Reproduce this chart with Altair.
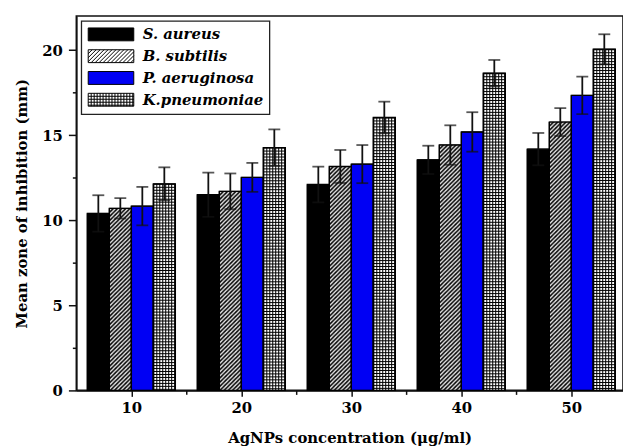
import urllib.parse
import altair as alt
import pandas as pd

# ---------------- data ----------------
concentrations = [10, 20, 30, 40, 50]
series = ["S. aureus", "B. subtilis", "P. aeruginosa", "K.pneumoniae"]
means = {
    "S. aureus":     [10.40, 11.50, 12.10, 13.55, 14.18],
    "B. subtilis":   [10.70, 11.70, 13.16, 14.42, 15.77],
    "P. aeruginosa": [10.83, 12.52, 13.30, 15.19, 17.34],
    "K.pneumoniae":  [12.14, 14.27, 16.04, 18.64, 20.05],
}
errors = {
    "S. aureus":     [1.07, 1.30, 1.05, 0.83, 0.95],
    "B. subtilis":   [0.60, 1.05, 0.97, 1.16, 0.82],
    "P. aeruginosa": [1.13, 0.85, 1.12, 1.16, 1.10],
    "K.pneumoniae":  [0.97, 1.07, 0.93, 0.78, 0.88],
}
fill_colors = ["#000000", "#ffffff", "#0000f4", "#ffffff"]

rows = []
for i, s in enumerate(series):
    for j, c in enumerate(concentrations):
        rows.append({"conc": c, "series": s, "idx": i,
                     "value": means[s][j], "err": errors[s][j]})
df = pd.DataFrame(rows)

# ---------------- patterns ----------------
hatch_svg = (
    "<svg xmlns='http://www.w3.org/2000/svg' width='100%' height='100%'>"
    "<defs><pattern id='h' width='4.2' height='4.2' patternUnits='userSpaceOnUse'>"
    "<rect width='4.2' height='4.2' fill='#e6e6e6'/>"
    "<path d='M-1,1 L1,-1 M0,4.2 L4.2,0 M3.2,5.2 L5.2,3.2' stroke='#000' stroke-width='1.5'/>"
    "</pattern></defs><rect width='100%' height='100%' fill='url(#h)'/></svg>"
)
grid_svg = (
    "<svg xmlns='http://www.w3.org/2000/svg' width='100%' height='100%'>"
    "<defs><pattern id='g' width='3' height='3' patternUnits='userSpaceOnUse'>"
    "<rect width='3' height='3' fill='white'/>"
    "<path d='M0,0.5 H3 M0.5,0 V3' stroke='#000' stroke-width='1.05'/>"
    "</pattern></defs><rect width='100%' height='100%' fill='url(#g)'/></svg>"
)
hatch_url = "data:image/svg+xml," + urllib.parse.quote(hatch_svg)
grid_url = "data:image/svg+xml," + urllib.parse.quote(grid_svg)

# legend symbol paths (unit = sqrt(size)/2 px)
K = 6.5
X0, X1 = -1.0, -1.0 + 46 / K


def rect_path():
    return f"M{X0:.3f},-1H{X1:.3f}V1H{X0:.3f}Z"


def hatch_path():
    p = rect_path()
    step = 4.0 / K
    a = X0 - 2
    while a < X1:
        xs, ys = a, 1.0
        xe, ye = a + 2, -1.0
        if xs < X0:
            ys = 1.0 - (X0 - xs)
            xs = X0
        if xe > X1:
            ye = -1.0 + (xe - X1)
            xe = X1
        if xe > xs:
            p += f"M{xs:.3f},{ys:.3f}L{xe:.3f},{ye:.3f}"
        a += step
    return p


def grid_path():
    p = rect_path()
    g = 3.0 / K
    x = X0 + g
    while x < X1 - 0.05:
        p += f"M{x:.3f},-1V1"
        x += g
    y = -1 + g
    while y < 1 - 0.05:
        p += f"M{X0:.3f},{y:.3f}H{X1:.3f}"
        y += g
    return p


shape_range = [rect_path(), hatch_path(), rect_path(), grid_path()]

FONT = "DejaVu Serif"

fill_scale = alt.Scale(domain=series, range=fill_colors)
shape_scale = alt.Scale(domain=series, range=shape_range)
xscale = alt.Scale(domain=[5, 54.7], nice=False, zero=False)
yscale = alt.Scale(domain=[0, 22], nice=False)


def legend_def():
    return alt.Legend(
        title=None, orient="top-left", offset=5, padding=6,
        symbolSize=169, symbolStrokeWidth=1.0,
        symbolOpacity=1, labelOffset=41, labelFont=FONT, labelFontSize=15,
        labelFontStyle="italic", labelFontWeight="bold", labelColor="black",
        rowPadding=5, strokeColor="#222", fillColor="white", labelLimit=400,
    )


base = alt.Chart(df).transform_calculate(
    xc="datum.conc + (2 * datum.idx - 3)",
    x1="datum.conc + (2 * datum.idx - 3) - 1",
    x2="datum.conc + (2 * datum.idx - 3) + 1",
    lo="datum.value - datum.err",
    hi="datum.value + datum.err",
    zero="0",
)

xaxis = alt.Axis(
    title="AgNPs concentration (\u03bcg/ml)",
    values=[10, 15, 20, 25, 30, 35, 40, 45, 50],
    labelExpr="datum.value % 10 === 0 ? datum.label : ''",
    tickSize={"condition": {"test": "datum.value % 10 !== 0", "value": 4}, "value": 6},
    labelPadding=4, titlePadding=16,
)
yaxis = alt.Axis(
    title="Mean zone of inhibition (mm)",
    values=[0, 2.5, 5, 7.5, 10, 12.5, 15, 17.5, 20],
    labelExpr="datum.value % 5 === 0 ? datum.label : ''",
    tickSize={"condition": {"test": "datum.value % 5 !== 0", "value": 4}, "value": 8},
    labelPadding=6, titlePadding=12,
)

bars = base.mark_bar(stroke="black", strokeWidth=1.0).encode(
    x=alt.X("x1:Q", scale=xscale, axis=xaxis),
    x2="x2:Q",
    y=alt.Y("value:Q", scale=yscale, axis=yaxis, stack=None),
    y2="zero:Q",
    fill=alt.Fill("series:N", scale=fill_scale, legend=legend_def()),
)

hatch_img = base.transform_filter(alt.datum.series == series[1]).mark_image(
    aspect=False
).encode(
    x="x1:Q", x2="x2:Q", y="value:Q", y2="zero:Q", url=alt.value(hatch_url)
)
grid_img = base.transform_filter(alt.datum.series == series[3]).mark_image(
    aspect=False
).encode(
    x="x1:Q", x2="x2:Q", y="value:Q", y2="zero:Q", url=alt.value(grid_url)
)

outline = base.mark_bar(fillOpacity=0, stroke="black", strokeWidth=1.4).encode(
    x="x1:Q", x2="x2:Q", y=alt.Y("value:Q", stack=None), y2="zero:Q"
)

whisk = base.mark_rule(color="#111", strokeWidth=1.8).encode(
    x="xc:Q", y="lo:Q", y2="hi:Q"
)
cap_hi = base.mark_tick(orient="horizontal", size=12, thickness=1.8, color="#111").encode(
    x="xc:Q", y="hi:Q"
)
cap_lo = base.mark_tick(orient="horizontal", size=12, thickness=1.8, color="#111").encode(
    x="xc:Q", y="lo:Q"
)

legend_pts = base.mark_point(
    filled=True, size=1, opacity=0, stroke="black", strokeWidth=1.0
).encode(
    x="xc:Q",
    y="value:Q",
    fill=alt.Fill("series:N", scale=fill_scale, legend=legend_def()),
    shape=alt.Shape("series:N", scale=shape_scale, legend=legend_def()),
)

chart = alt.layer(
    bars, hatch_img, grid_img, outline, whisk, cap_hi, cap_lo, legend_pts
).properties(
    width=552, height=378,
    autosize=alt.AutoSizeParams(type="none"),
    padding={"left": 69, "top": 6, "right": 0, "bottom": 56},
    background="white",
).configure_view(
    stroke="#111", strokeWidth=1.6
).configure_axis(
    grid=False,
    labelFont=FONT, labelFontWeight="bold", labelFontSize=15, labelColor="black",
    titleFont=FONT, titleFontWeight="bold", titleFontSize=15, titleColor="black",
    domainColor="#111", domainWidth=1.6, tickColor="#111", tickWidth=1.5,
).configure_legend(
    strokeWidth=1.3
)

chart.save("out.html", embed_options={"renderer": "svg", "actions": False})
